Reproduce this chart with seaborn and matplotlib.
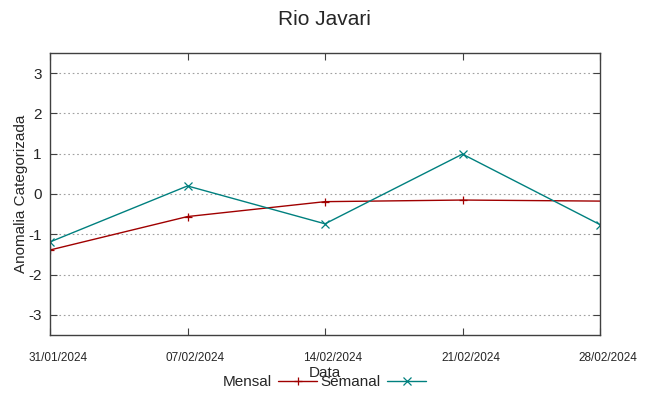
import pandas as pd
import matplotlib
matplotlib.use("Agg")
import matplotlib.pyplot as plt
import matplotlib.dates as mdates
import matplotlib.transforms as mtransforms
import seaborn as sns

# weekly dates shown on the x axis
tick_dates = ["2024-01-31", "2024-02-07", "2024-02-14", "2024-02-21", "2024-02-28"]

# monthly series (last point lies just past the right border, clipped)
mensal_dates = ["2024-01-31", "2024-02-07", "2024-02-14", "2024-02-21", "2024-02-29"]
mensal_values = [-1.39, -0.56, -0.19, -0.15, -0.18]

# weekly series
semanal_dates = ["2024-01-31", "2024-02-07", "2024-02-14", "2024-02-21", "2024-02-28"]
semanal_values = [-1.19, 0.20, -0.74, 0.99, -0.76]

y_ticks = [-3, -2, -1, 0, 1, 2, 3]

sns.set_style("white")
plt.rcParams["font.family"] = ["Liberation Sans", "DejaVu Sans"]
plt.rcParams["axes.unicode_minus"] = False

df = pd.concat([
    pd.DataFrame({"Data": pd.to_datetime(mensal_dates), "valor": mensal_values, "serie": "Mensal"}),
    pd.DataFrame({"Data": pd.to_datetime(semanal_dates), "valor": semanal_values, "serie": "Semanal"}),
])

fig = plt.figure(figsize=(6.49, 3.96), dpi=100)
ax = fig.add_axes([50 / 649, 1 - 335 / 396, 550 / 649, 282 / 396])

palette = {"Mensal": "#a00000", "Semanal": "#00807f"}
last_day = pd.Timestamp(tick_dates[-1])
for name, mk in [("Mensal", "+"), ("Semanal", "x")]:
    sub = df[df["serie"] == name].reset_index(drop=True)
    shown = [i for i in range(len(sub)) if sub["Data"].iloc[i] <= last_day]
    sns.lineplot(data=sub, x="Data", y="valor", ax=ax, color=palette[name],
                 marker=mk, markersize=5.5, markeredgewidth=0.9,
                 markeredgecolor=palette[name], linewidth=1,
                 label=name, markevery=shown)

ax.set_xlim(pd.Timestamp(tick_dates[0]), last_day)
ax.set_ylim(-3.5, 3.5)
ax.set_xticks(pd.to_datetime(tick_dates))
ax.xaxis.set_major_formatter(mdates.DateFormatter("%d/%m/%Y"))
ax.set_yticks(y_ticks)
ax.yaxis.grid(True, color="#a0a0a0", linestyle=(0, (1.5, 2.5)), linewidth=0.8)
ax.xaxis.grid(False)

ax.tick_params(axis="both", direction="in", length=5, color="#404040",
               top=True, right=True, bottom=True, left=True)
ax.tick_params(axis="x", labelsize=8.5, pad=12)
ax.tick_params(axis="y", labelsize=11, pad=6)
# gnuplot places the date labels a little right of the tick
shift = mtransforms.ScaledTranslation(8 / 100, 0, fig.dpi_scale_trans)
for lab in ax.get_xticklabels():
    lab.set_transform(lab.get_transform() + shift)
for s in ax.spines.values():
    s.set_color("#404040")
    s.set_linewidth(1)

ax.set_xlabel("Data", fontsize=11, labelpad=2)
ax.set_ylabel("Anomalia Categorizada", fontsize=11, labelpad=0)
fig.suptitle("Rio Javari", fontsize=15, y=0.975)

ax.legend(loc="center", bbox_to_anchor=(0.5, 1 - 382 / 396), bbox_transform=fig.transFigure,
          ncol=2, frameon=False, markerfirst=False, fontsize=11, handlelength=2.6,
          handletextpad=0.4, columnspacing=0.2, borderpad=0)

fig.savefig("out.png", dpi=100)
